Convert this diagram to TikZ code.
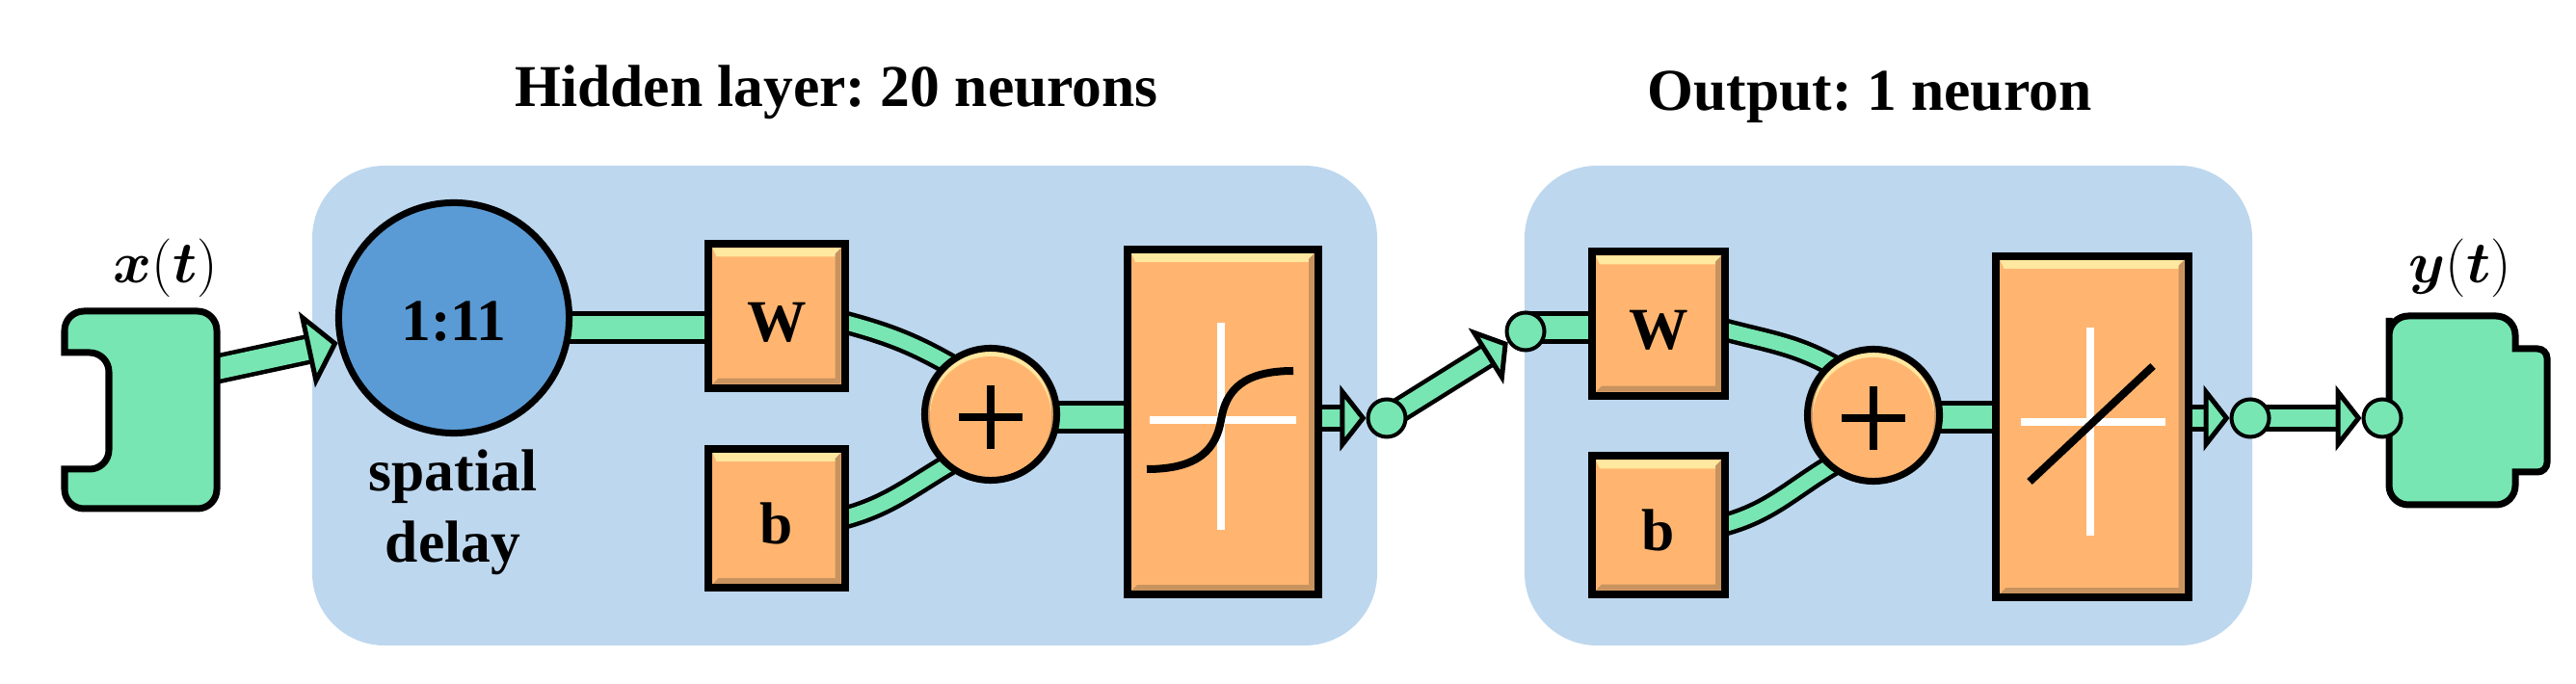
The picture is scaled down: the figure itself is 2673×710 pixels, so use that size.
\documentclass[tikz,border=0pt]{standalone}
\usepackage{bm}
\usepackage{fontspec}
\setmainfont{Liberation Serif}
\usetikzlibrary{arrows.meta}
\frenchspacing

\definecolor{panelblue}{HTML}{BDD7EE}
\definecolor{delayblue}{HTML}{5B9BD5}
\definecolor{pipegreen}{HTML}{78E6B2}
\definecolor{boxorange}{HTML}{FFB570}
\definecolor{boxlight}{HTML}{FFE8A0}
\definecolor{boxdark}{HTML}{C8935F}

\pgfdeclarelayer{panels}
\pgfdeclarelayer{pipes}
\pgfsetlayers{panels,pipes,main}

\tikzset{
    panel/.style={fill=panelblue, rounded corners=0.75cm},
    title/.style={font=\fontsize{17.5}{21}\selectfont\bfseries},
    portshape/.style={draw, fill=pipegreen, line width=0.07cm},
    delaynode/.style={circle, draw, fill=delayblue, line width=0.07cm, minimum size=2.39cm, inner sep=0pt, text height=0.48cm, title},
    joint/.style={circle, draw, fill=pipegreen, line width=0.04cm, minimum size=0.39cm, inner sep=0pt},
    orangebox/.style={rectangle, draw, fill=boxorange, line width=0.08cm, inner sep=0pt, text height=0.53cm, title,
        path picture={
            \fill[boxlight] ([shift={(4,4)}]path picture bounding box.north west)
                -- ([shift={(-4,4)}]path picture bounding box.north east)
                -- ([shift={(-8,13)}]path picture bounding box.north east)
                -- ([shift={(8,13)}]path picture bounding box.north west) -- cycle;
            \fill[boxdark] ([shift={(-4,4)}]path picture bounding box.north east)
                -- ([shift={(-4,-4)}]path picture bounding box.south east)
                -- ([shift={(-10,-10)}]path picture bounding box.south east)
                -- ([shift={(-10,10)}]path picture bounding box.north east) -- cycle;
            \fill[boxdark] ([shift={(4,-4)}]path picture bounding box.south west)
                -- ([shift={(-4,-4)}]path picture bounding box.south east)
                -- ([shift={(-10,-10)}]path picture bounding box.south east)
                -- ([shift={(10,-10)}]path picture bounding box.south west) -- cycle;
        }},
    sumnode/.style={circle, draw, fill=boxdark, line width=0.07cm, minimum size=1.37cm, inner sep=0pt,
        path picture={
            \fill[boxlight] ([shift={(0,-2)}]path picture bounding box.center) circle[radius=0.63cm];
            \fill[boxorange] ([shift={(0,3)}]path picture bounding box.center) circle[radius=0.63cm];
            \draw[line width=0.08cm] ([shift={(-33,3)}]path picture bounding box.center) -- ([shift={(33,3)}]path picture bounding box.center);
            \draw[line width=0.08cm] ([shift={(0,-30)}]path picture bounding box.center) -- ([shift={(0,36)}]path picture bounding box.center);
        }},
    pipe/.style={draw, line width=0.045cm, double=pipegreen, double distance=0.24cm},
    bendpipe/.style={draw, line width=0.045cm, double=pipegreen, double distance=0.15cm},
    arrowpipe/.style={draw, line width=0.045cm, double=pipegreen, double distance=0.18cm,
        -{Triangle[length=0.27cm, width=0.68cm, line width=0.05cm, fill=pipegreen]}},
    bigarrowpipe/.style={draw, line width=0.045cm, double=pipegreen, double distance=0.22cm,
        -{Triangle[length=0.33cm, width=0.8cm, line width=0.05cm, fill=pipegreen]}},
    crossline/.style={white, line width=0.08cm},
    curveline/.style={black, line width=0.08cm},
}

\begin{document}
\begin{tikzpicture}[x=0.01cm, y=-0.01cm]
    \useasboundingbox (0,0) rectangle (2673,710);

    % Panels
    \begin{pgfonlayer}{panels}
        \fill[panel] (324,172) rectangle (1429,670);
        \fill[panel] (1582,172) rectangle (2337,670);
    \end{pgfonlayer}

    \node[title] (hiddentitle) at (868,96) {Hidden layer: 20 neurons};
    \node[title] (outputtitle) at (1940,101) {Output: 1 neuron};

    % Input port
    \draw[portshape] (67,366) [rounded corners=0.2cm] -- (113,366) -- (113,487) [sharp corners] -- (67,487)
        [rounded corners=0.2cm] -- (67,528) -- (225,528) -- (225,323) -- (67,323) [sharp corners] -- cycle;
    \coordinate (inport) at (225,383);
    \node (xlabel) at (172,278) {\fontsize{16}{20}\selectfont$\bm{x}(\bm{t})$};

    % Hidden layer
    \node[delaynode] (delay) at (471,330) {1:11};
    \node[title, align=center] (delaytext) at (470,532) {spatial\\[0pt]delay};
    \node[orangebox, minimum width=1.41cm, minimum height=1.49cm] (wone) at (806,328) {W};
    \node[orangebox, minimum width=1.41cm, minimum height=1.44cm] (bone) at (806,538) {b};
    \node[sumnode] (sumone) at (1028,430) {};
    \node[orangebox, minimum width=1.98cm, minimum height=3.58cm] (tfone) at (1269,438) {};
    \draw[crossline] (1267,335) -- (1267,550);
    \draw[crossline] (1193,436) -- (1345,436);
    \draw[curveline] (1190,487) .. controls (1245,487) and (1262,465) .. (1267,436)
        .. controls (1272,405) and (1290,385) .. (1342,385);

    % Output layer
    \node[orangebox, minimum width=1.38cm, minimum height=1.49cm] (wtwo) at (1721,336) {W};
    \node[orangebox, minimum width=1.38cm, minimum height=1.43cm] (btwo) at (1721,545) {b};
    \node[sumnode] (sumtwo) at (1944,431) {};
    \node[orangebox, minimum width=1.99cm, minimum height=3.54cm] (tftwo) at (2171,443) {};
    \draw[crossline] (2169,340) -- (2169,556);
    \draw[crossline] (2097,438) -- (2247,438);
    \draw[curveline] (2106,500) -- (2234,380);

    % Output port
    \draw[portshape] (2479,350) [rounded corners=0.2cm] -- (2479,328) -- (2610,328) [sharp corners] -- (2610,362)
        [rounded corners=0.1cm] -- (2643,362) -- (2643,490) [sharp corners] -- (2610,490)
        [rounded corners=0.2cm] -- (2610,524) -- (2479,524) -- (2479,350) [sharp corners] -- cycle;
    \node (ylabel) at (2553,278) {\fontsize{16}{20}\selectfont$\bm{y}(\bm{t})$};

    % Joints
    \node[joint] (jointa) at (1439,434) {};
    \node[joint] (jointb) at (1583,344) {};
    \node[joint] (jointc) at (2335,434) {};
    \node[joint] (jointd) at (2472,434) {};

    \coordinate (wonein) at (732,340);
    \coordinate (tfonein) at (1166,433);
    \coordinate (wtwoin) at (1648,340);
    \coordinate (tftwoin) at (2068,433);

    % Pipes
    \begin{pgfonlayer}{pipes}
        \draw[pipe] (wonein -| delay) -- (wonein -| wone);
        \draw[bendpipe] ([shift={(-6,6)}]wone.east) to[out=-15, in=150] ([shift={(8,6)}]sumone.130);
        \draw[bendpipe] ([shift={(-6,0)}]bone.east) to[out=15, in=-150] ([shift={(8,-6)}]sumone.-130);
        \draw[pipe] (tfonein -| sumone) -- (tfonein -| tfone);
        \draw[pipe] (wtwoin -| jointb) -- (wtwoin -| wtwo);
        \draw[bendpipe] ([shift={(-6,6)}]wtwo.east) to[out=-15, in=150] ([shift={(8,6)}]sumtwo.130);
        \draw[bendpipe] ([shift={(-6,0)}]btwo.east) to[out=15, in=-150] ([shift={(8,-6)}]sumtwo.-130);
        \draw[pipe] (tftwoin -| sumtwo) -- (tftwoin -| tftwo);
        \draw[bigarrowpipe] (inport) -- (delay);
        \draw[arrowpipe] (jointa -| tfone) -- (jointa);
        \draw[arrowpipe] (jointa.center) -- (jointb);
        \draw[arrowpipe] (jointc -| tftwo) -- (jointc);
        \draw[arrowpipe] (jointc.center) -- (jointd);
    \end{pgfonlayer}
\end{tikzpicture}
\end{document}
